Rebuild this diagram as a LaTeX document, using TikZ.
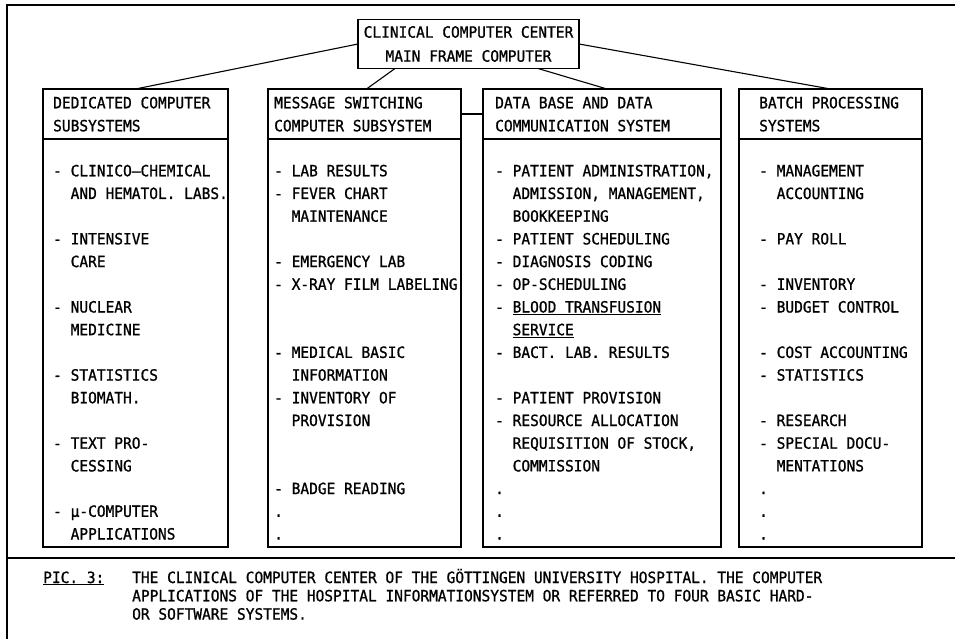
\documentclass[tikz,border=0pt]{standalone}
\usepackage{fontspec}
\newfontfamily\tw[FakeStretch=0.936,FakeBold=1]{DejaVu Sans Mono}
\usetikzlibrary{calc}
\tikzset{
  ln/.style={line width=1.1pt, line cap=round},
  boxsh/.style={draw, line width=1.1pt, rectangle, inner sep=0pt, outer sep=0pt},
  txt/.style={anchor=base west, inner sep=0pt, font=\fontsize{15.5}{24}\tw},
}
\newcommand\colitems[3]{%
  \foreach \i/\d/\t in {#3} {\node[txt] (#1\i) at ({#2+\d*17.46},{176.3+22.7*\i}) {\t};}}
\begin{document}
\begin{tikzpicture}[x=1pt,y=-1pt]
\useasboundingbox (0,0) rectangle (955,639);
% outer frame
\draw[ln] (7,639) -- (7,5) -- (955,5);
\draw[ln] (7,558) -- (955,558);
% top box
\node[boxsh, minimum width=221pt, minimum height=49pt, align=center,
      font=\fontsize{15.5}{24}\tw] (top) at (468.5,44)
      {CLINICAL COMPUTER CENTER\\MAIN FRAME COMPUTER};
% column boxes
\node[boxsh, minimum width=185pt, minimum height=50pt]  (h1) at (135.5,114) {};
\node[boxsh, minimum width=185pt, minimum height=408pt] (b1) at (135.5,343) {};
\node[boxsh, minimum width=193pt, minimum height=50pt]  (h2) at (364.5,114) {};
\node[boxsh, minimum width=193pt, minimum height=408pt] (b2) at (364.5,343) {};
\node[boxsh, minimum width=238pt, minimum height=50pt]  (h3) at (602,114) {};
\node[boxsh, minimum width=238pt, minimum height=408pt] (b3) at (602,343) {};
\node[boxsh, minimum width=183pt, minimum height=50pt]  (h4) at (830.5,114) {};
\node[boxsh, minimum width=183pt, minimum height=408pt] (b4) at (830.5,343) {};
% connectors
\draw[ln] (top.west) -- (h1.north);
\draw[ln] ($(top.south west)+(37,0)$) -- ($(h2.north)+(2,0)$);
\draw[ln] ($(top.south east)+(-41,0)$) -- ($(h3.north)+(5,0)$);
\draw[ln] (top.east) -- (h4.north);
\draw[ln] (h2.east) -- (h3.west);
% headers
\node[txt] (t1a) at (53,108.3) {DEDICATED COMPUTER};
\node[txt] (t1b) at (53,131.3) {SUBSYSTEMS};
\node[txt] (t2a) at (274,108.3) {MESSAGE SWITCHING};
\node[txt] (t2b) at (274,131.3) {COMPUTER SUBSYSTEM};
\node[txt] (t3a) at (495,108.3) {DATA BASE AND DATA};
\node[txt] (t3b) at (495,131.3) {COMMUNICATION SYSTEM};
\node[txt] (t4a) at (759,108.3) {BATCH PROCESSING};
\node[txt] (t4b) at (759,131.3) {SYSTEMS};
% lists
\colitems{ca}{53}{0/0/{- CLINICO–CHEMICAL}, 1/1/{AND HEMATOL. LABS.}, 3/0/{- INTENSIVE}, 4/1/{CARE},
  6/0/{- NUCLEAR}, 7/1/{MEDICINE}, 9/0/{- STATISTICS}, 10/1/{BIOMATH.}, 12/0/{- TEXT PRO-},
  13/1/{CESSING}, 15/0/{- μ-COMPUTER}, 16/1/{APPLICATIONS}}
\colitems{cb}{274}{0/0/{- LAB RESULTS}, 1/0/{- FEVER CHART}, 2/1/{MAINTENANCE}, 4/0/{- EMERGENCY LAB},
  5/0/{- X-RAY FILM LABELING}, 8/0/{- MEDICAL BASIC}, 9/1/{INFORMATION}, 10/0/{- INVENTORY OF},
  11/1/{PROVISION}, 14/0/{- BADGE READING}, 15/0/{.}, 16/0/{.}}
\colitems{cc}{495}{0/0/{- PATIENT ADMINISTRATION,}, 1/1/{ADMISSION, MANAGEMENT,}, 2/1/{BOOKKEEPING},
  3/0/{- PATIENT SCHEDULING}, 4/0/{- DIAGNOSIS CODING}, 5/0/{- OP-SCHEDULING},
  6/0/{- \underline{BLOOD TRANSFUSION}}, 7/1/{\underline{SERVICE}}, 8/0/{- BACT. LAB. RESULTS},
  10/0/{- PATIENT PROVISION}, 11/0/{- RESOURCE ALLOCATION}, 12/1/{REQUISITION OF STOCK,},
  13/1/{COMMISSION}, 14/0/{.}, 15/0/{.}, 16/0/{.}}
\colitems{cd}{759}{0/0/{- MANAGEMENT}, 1/1/{ACCOUNTING}, 3/0/{- PAY ROLL}, 5/0/{- INVENTORY},
  6/0/{- BUDGET CONTROL}, 8/0/{- COST ACCOUNTING}, 9/0/{- STATISTICS}, 11/0/{- RESEARCH},
  12/0/{- SPECIAL DOCU-}, 13/1/{MENTATIONS}, 14/0/{.}, 15/0/{.}, 16/0/{.}}
% caption
\node[txt] (pic) at (43,583) {\underline{PIC. 3:}};
\node[txt] (cap1) at (132,583) {THE CLINICAL COMPUTER CENTER OF THE GÖTTINGEN UNIVERSITY HOSPITAL. THE COMPUTER};
\node[txt] (cap2) at (132,601.3) {APPLICATIONS OF THE HOSPITAL INFORMATIONSYSTEM OR REFERRED TO FOUR BASIC HARD-};
\node[txt] (cap3) at (132,619.6) {OR SOFTWARE SYSTEMS.};
\end{tikzpicture}
\end{document}
